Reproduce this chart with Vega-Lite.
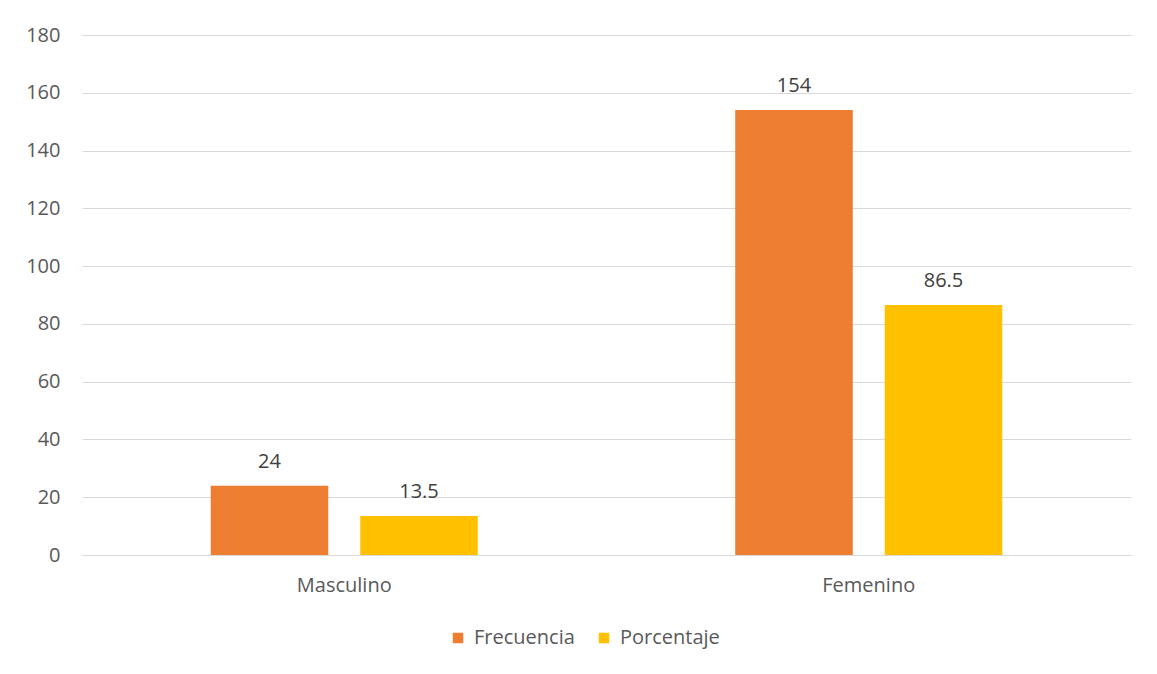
{
  "$schema": "https://vega.github.io/schema/vega-lite/v6.json",
  "width": 1049,
  "height": 520,
  "autosize": {"type": "none"},
  "padding": {"left": 82, "top": 35, "right": 26, "bottom": 119},
  "background": "white",
  "config": {
    "font": "Open Sans",
    "view": {"stroke": null}
  },
  "data": {
    "values": [
      {"sexo": "Masculino", "serie": "Frecuencia", "valor": 24},
      {"sexo": "Masculino", "serie": "Porcentaje", "valor": 13.5},
      {"sexo": "Femenino", "serie": "Frecuencia", "valor": 154},
      {"sexo": "Femenino", "serie": "Porcentaje", "valor": 86.5}
    ]
  },
  "encoding": {
    "x": {
      "field": "sexo",
      "type": "nominal",
      "sort": ["Masculino", "Femenino"],
      "scale": {"paddingInner": 0, "paddingOuter": 0},
      "axis": {
        "title": null,
        "labelAngle": 0,
        "labelFontSize": 20,
        "labelColor": "#595959",
        "labelPadding": 20,
        "ticks": false,
        "domain": false
      }
    },
    "xOffset": {
      "field": "serie",
      "type": "nominal",
      "sort": ["Frecuencia", "Porcentaje"],
      "scale": {"paddingInner": 0.214, "paddingOuter": 0.861}
    },
    "y": {
      "field": "valor",
      "type": "quantitative",
      "scale": {"domain": [0, 180], "nice": false},
      "axis": {
        "title": null,
        "values": [0, 20, 40, 60, 80, 100, 120, 140, 160, 180],
        "labelFontSize": 20,
        "labelColor": "#595959",
        "labelPadding": 22,
        "ticks": false,
        "domain": false,
        "gridColor": "#D9D9D9",
        "gridWidth": 1.2
      }
    },
    "color": {
      "field": "serie",
      "type": "nominal",
      "sort": ["Frecuencia", "Porcentaje"],
      "scale": {"domain": ["Frecuencia", "Porcentaje"], "range": ["#ED7D31", "#FFC000"]},
      "legend": {
        "title": null,
        "orient": "none",
        "legendX": 366,
        "legendY": 593,
        "direction": "horizontal",
        "symbolType": "square",
        "symbolSize": 110,
        "symbolStrokeWidth": 0,
        "labelFontSize": 20,
        "labelColor": "#595959",
        "columnPadding": 19,
        "labelOffset": 6
      }
    }
  },
  "layer": [
    {"mark": {"type": "bar"}},
    {
      "mark": {"type": "text", "baseline": "bottom", "dy": -14, "fontSize": 20, "color": "#404040"},
      "encoding": {"text": {"field": "valor", "type": "quantitative"}, "color": {"value": "#404040"}}
    }
  ]
}
